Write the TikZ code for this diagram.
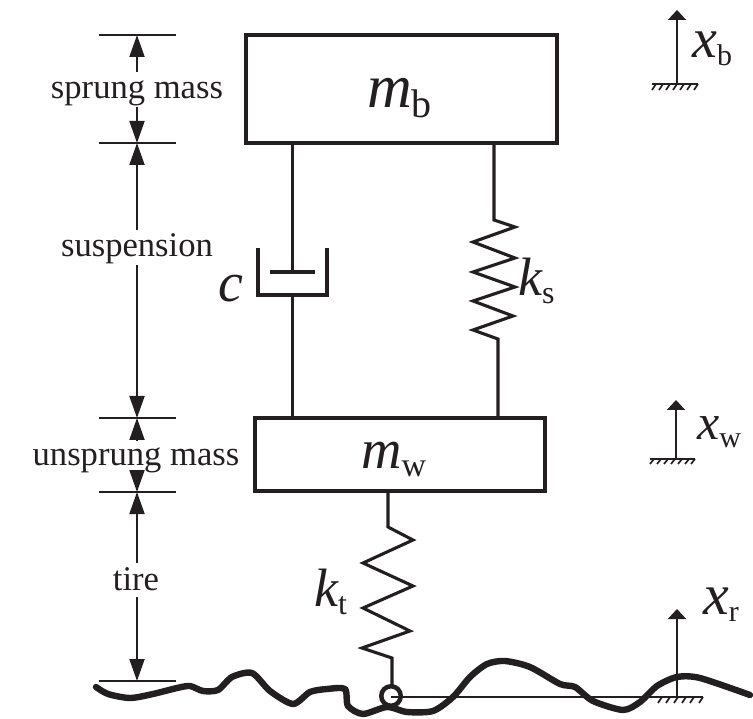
\documentclass[tikz,border=0pt]{standalone}
\usepackage{fontspec}
\setmainfont{Liberation Serif}
\usetikzlibrary{arrows.meta,calc}
\definecolor{ink}{HTML}{231F20}
\newcommand{\symb}[4]{{\fontsize{#1}{#1}\selectfont\itshape #2}{\fontsize{#3}{#3}\selectfont\upshape\raisebox{-0.25em}{#4}}}
\tikzset{
  massbox/.style={draw=ink,line width=3.4pt,inner sep=0pt,outer sep=0pt,anchor=north west},
  member/.style={draw=ink,line width=3.1pt,line join=miter},
  tick/.style={draw=ink,line width=2pt},
  dim/.style={draw=ink,line width=1.9pt},
  dimtip/.style={-{Triangle[length=22pt,width=15pt,fill=ink]}},
  motion/.style={draw=ink,line width=2.2pt,-{Triangle[length=10pt,width=18pt,fill=ink]}},
  ground/.style={draw=ink,line width=2.8pt},
  hatch/.style={draw=ink,line width=1.7pt},
  caption/.style={text=ink,font=\fontsize{34.6}{34.6}\selectfont,inner sep=0pt,anchor=base},
  symbol/.style={text=ink,inner sep=0pt,anchor=base west},
  roadline/.style={draw=ink,line width=6.4pt,line cap=round,line join=round}
}
\begin{document}
\begin{tikzpicture}[x=1pt,y=-1pt]
\useasboundingbox (0,0) rectangle (753,719);
% masses
\node[massbox,minimum width=311pt,minimum height=108pt] (mb) at (246,35) {};
\node[massbox,minimum width=290pt,minimum height=73pt] (mw) at (255,418) {};
\node[symbol] (lmb) at (367,108) {\symb{62}{m}{40}{b}};
\node[symbol] (lmw) at (361,468) {\symb{56}{m}{34}{w}};
% damper
\coordinate (d1) at (292.5,143);
\coordinate (d2) at (292.5,272);
\coordinate (d3) at (292.5,295);
\coordinate (d4) at (292.5,418);
\draw[member] (d1) -- (d2);
\draw[member] (d3) -- (d4);
\draw[member] (270,272) -- (315,272);
\draw[member] (258,248) -- (258,295) -- (327,295) -- (327,248);
\node[symbol] (lc) at (218,302) {\symb{56}{c}{10}{}};
% suspension spring
\coordinate (s1) at (494,143);
\coordinate (s2) at (498,418);
\draw[member] (s1) -- (494,220) -- (515,227) -- (473,242) -- (515,258) -- (473,272) -- (515,287) -- (473,301) -- (513,316) -- (473,330) -- (498,339) -- (s2);
\node[symbol] (lks) at (518,296) {\symb{54}{k}{32}{s}};
% tire spring
\coordinate (t1) at (388,491);
\coordinate (t2) at (392,686);
\draw[member] (t1) -- (388,527) -- (413,540) -- (363,563) -- (413,586) -- (363,608) -- (410,631) -- (362,648) -- (392,658) -- (t2);
\node[symbol] (lkt) at (314,606) {\symb{54}{k}{32}{t}};
% dimension ticks
\foreach \n/\y in {a/35,b/143,c/418,d/492,e/681}{
  \coordinate (\n0) at (137,\y);
  \draw[tick] (99,\y) -- (176,\y);
}
\coordinate (a1) at (137,72);
\coordinate (b1) at (137,107);
\coordinate (b2) at (137,230);
\coordinate (c2) at (137,265);
\coordinate (c1) at (137,441);
\coordinate (dd) at (137,472);
\coordinate (d2b) at (137,563);
\coordinate (e2) at (137,597);
\draw[dim,dimtip] (a1) -- (a0);
\draw[dim,dimtip] (b1) -- (b0);
\draw[dim,dimtip] (b2) -- (b0);
\draw[dim,dimtip] (c2) -- (c0);
\draw[dim,dimtip] (c1) -- (c0);
\draw[dim,dimtip] (dd) -- (d0);
\draw[dim,dimtip] (d2b) -- (d0);
\draw[dim,dimtip] (e2) -- (e0);
% captions
\node[caption] (c-sprung) at (137,99) {sprung mass};
\node[caption] (c-susp) at (137,257) {suspension};
\node[caption] (c-unsprung) at (136,465) {unsprung mass};
\node[caption] (c-tire) at (136,590) {tire};
% motion symbols
\coordinate (xb0) at (677,84);
\coordinate (xb1) at (677,10);
\draw[motion] (xb0) -- (xb1);
\draw[ground] (652,84) -- (698,84);
\foreach \x in {656,663,670,677,684,691,698}{\draw[hatch] (\x,84) -- (\x-4,90);}
\node[symbol] (lxb) at (692,58) {\symb{56}{x}{30}{b}};
\coordinate (xw0) at (676,459);
\coordinate (xw1) at (676,400);
\draw[motion] (xw0) -- (xw1);
\draw[ground] (650,459) -- (695,459);
\foreach \x in {654,661,668,675,682,689,695}{\draw[hatch] (\x,459) -- (\x-4,464);}
\node[symbol] (lxw) at (697,440) {\symb{50}{x}{30}{w}};
\coordinate (xr0) at (677,697);
\coordinate (xr1) at (677,609);
\draw[motion] (xr0) -- (xr1);
\node[symbol] (lxr) at (703,614) {\symb{58}{x}{30}{r}};
% road reference
\coordinate (o) at (391,697);
\coordinate (g1) at (703,697);
\draw[draw=ink,line width=2.2pt] (o) -- (g1);
\foreach \x in {662,670,678,686,694,703}{\draw[hatch] (\x,697) -- (\x-4,703);}
% road
\draw[roadline] plot[smooth,tension=0.45] coordinates {(96,687) (108,694) (130,698) (153,694) (177,688) (190,686) (203,691) (218,690) (232,677) (252,673) (270,691) (293,704) (310,692) (327,689) (345,689) (348,706) (363,714) (387,707) (407,712) (433,711) (453,697) (470,677) (487,664) (505,661) (530,667) (560,684) (575,687) (593,701) (623,710) (640,702) (657,686) (677,677) (700,678) (750,695)};
\node[draw=ink,line width=4.5pt,shape=circle,minimum size=19.5pt,inner sep=0pt] (contact) at (391,696) {};
\end{tikzpicture}
\end{document}
